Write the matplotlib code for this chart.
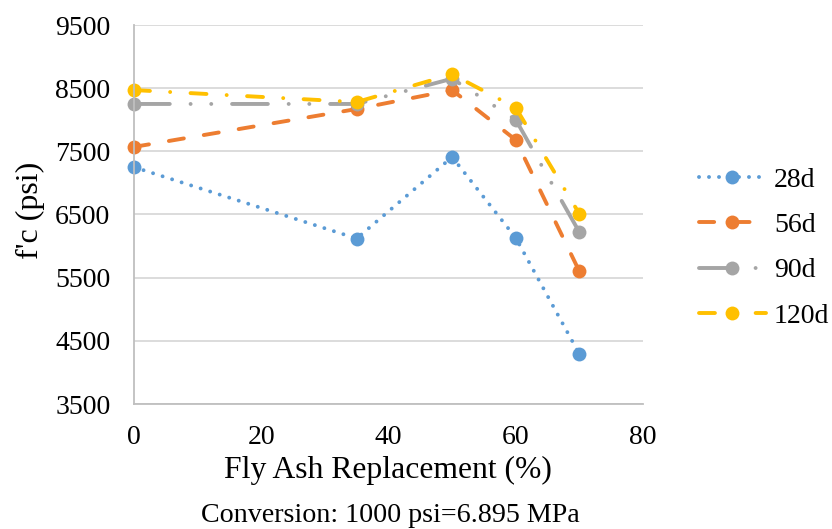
import matplotlib.pyplot as plt

plt.rcParams['font.family'] = ['Liberation Serif', 'DejaVu Serif']

# Fly ash replacement (%) and compressive strength (psi) by curing age
fly_ash = [0, 35, 50, 60, 70]
fc_28d = [7250, 6120, 7410, 6130, 4290]
fc_56d = [7570, 8170, 8470, 7680, 5600]
fc_90d = [8250, 8250, 8650, 8000, 6220]
fc_120d = [8470, 8280, 8720, 8190, 6510]
labels = ['28d', '56d', '90d', '120d']

colors = ['#5b9bd5', '#ed7d31', '#a5a5a5', '#ffc000']
dash_styles = [
    (0, (0.01, 2.56)),
    (0, (3.9, 5.2)),
    (0, (9.2, 5.35, 0.01, 5.3, 0.01, 5.35)),
    (0, (4.1, 5.2, 0.01, 5.25)),
]

fig = plt.figure(figsize=(8.32, 5.29), dpi=100)
ax = fig.add_axes([134 / 832, 1 - 404 / 529, (643 - 134) / 832, (404 - 25) / 529])

series = [fc_28d, fc_56d, fc_90d, fc_120d]
for vals, lab, col, ls in zip(series, labels, colors, dash_styles):
    line, = ax.plot(fly_ash, vals, color=col, lw=2.8, linestyle=ls,
                    marker='o', markersize=10, markeredgewidth=0,
                    label=lab, clip_on=False)
    line.set_dash_capstyle('round')
    line.set_solid_capstyle('round')

ax.set_xlim(0, 80)
ax.set_ylim(3500, 9500)
ax.set_xticks([0, 20, 40, 60, 80])
ax.set_yticks(range(3500, 9501, 1000))
ax.tick_params(length=0, labelsize=20)
ax.tick_params(axis='y', pad=17)
ax.tick_params(axis='x', pad=15)
ax.grid(axis='y', color='#d9d9d9', lw=1.3)
ax.set_axisbelow(True)
for s in ['top', 'right']:
    ax.spines[s].set_visible(False)
for s in ['left', 'bottom']:
    ax.spines[s].set_color('#bfbfbf')
    ax.spines[s].set_linewidth(1.3)

fig.text(30 / 832, 1 - 210 / 529, "f'c (psi)", fontsize=23, rotation=90,
         ha='center', va='center')
fig.text(388 / 832, 1 - 470 / 529, 'Fly Ash Replacement (%)',
         fontsize=22.8, ha='center', va='center')
fig.text(390 / 832, 1 - 515 / 529, 'Conversion: 1000 psi=6.895 MPa',
         fontsize=20.2, ha='center', va='center')

leg = ax.legend(loc='center left', bbox_to_anchor=(685 / 832, 1 - 248 / 529),
                bbox_transform=fig.transFigure, frameon=False, fontsize=20,
                handlelength=2.4, handletextpad=0.3, labelspacing=0.72,
                borderpad=0)

plt.savefig('out.png', dpi=100)
